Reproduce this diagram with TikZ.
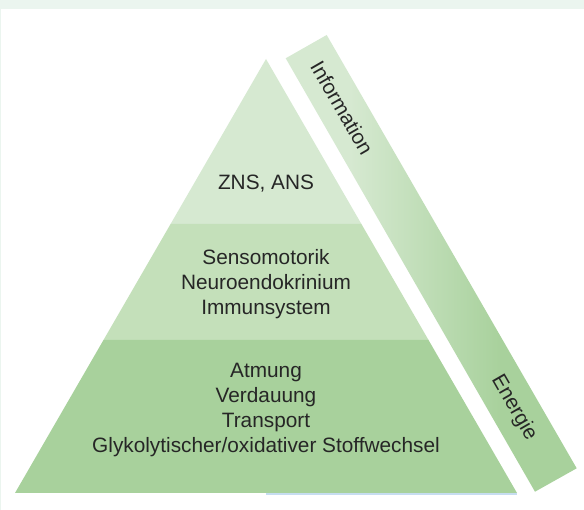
\documentclass[tikz,border=0pt]{standalone}
\usepackage{fontspec}
\setmainfont{Liberation Sans}
\usepackage{tikz}
\definecolor{TopGreen}{HTML}{D6E9D1}
\definecolor{MidGreen}{HTML}{C4E0BA}
\definecolor{LowGreen}{HTML}{A8D19C}
\definecolor{FrameMint}{HTML}{EBF5EF}
\definecolor{BaseBlue}{HTML}{C6DDF0}
\definecolor{TextGray}{HTML}{262626}
\pgfdeclarehorizontalshading{barshading}{100bp}{color(0bp)=(TopGreen); color(36bp)=(TopGreen); color(62bp)=(LowGreen); color(100bp)=(LowGreen)}
\tikzset{
    leveltext/.style={font=\fontsize{20.8}{24.8}\selectfont, text=TextGray, align=center, inner sep=0pt},
    sidetext/.style={leveltext, rotate=-60}
}

\begin{document}
\begin{tikzpicture}[x=1pt,y=-1pt]
        \useasboundingbox (0,0) rectangle (584,510);

        % Draw the frame
        \fill[white] (0,0) rectangle (584,510);
        \fill[FrameMint] (0,0) rectangle (584,9);
        \fill[FrameMint] (0,0) rectangle (1.2,510);

        % Draw the levels of the pyramid
        \fill[TopGreen] (266,59) -- (361.4,224) -- (170.6,224) -- cycle;
        \fill[MidGreen] (170.6,224) -- (361.4,224) -- (428.5,340) -- (103.5,340) -- cycle;
        \fill[LowGreen] (103.5,340) -- (428.5,340) -- (517,493) -- (15,493) -- cycle;
        \draw[BaseBlue, line width=1.2pt] (266,494) -- (517,494);

        % Draw the side bar
        \shade[shading=barshading] (285.7,58.3) -- (326.7,35) -- (576.7,468.3) -- (535,491.7) -- cycle;

        % Label the levels
        \node[leveltext] (zns) at (266,184) {ZNS, ANS};
        \node[leveltext] (senso) at (266,284) {Sensomotorik\\Neuroendokrinium\\Immunsystem};
        \node[leveltext] (atmung) at (266,410) {Atmung\\Verdauung\\Transport\\Glykolytischer/oxidativer Stoffwechsel};

        % Label the side bar
        \node[sidetext] (info) at (342,108) {Information};
        \node[sidetext] (energie) at (514,408) {Energie};
    \end{tikzpicture}
\end{document}
